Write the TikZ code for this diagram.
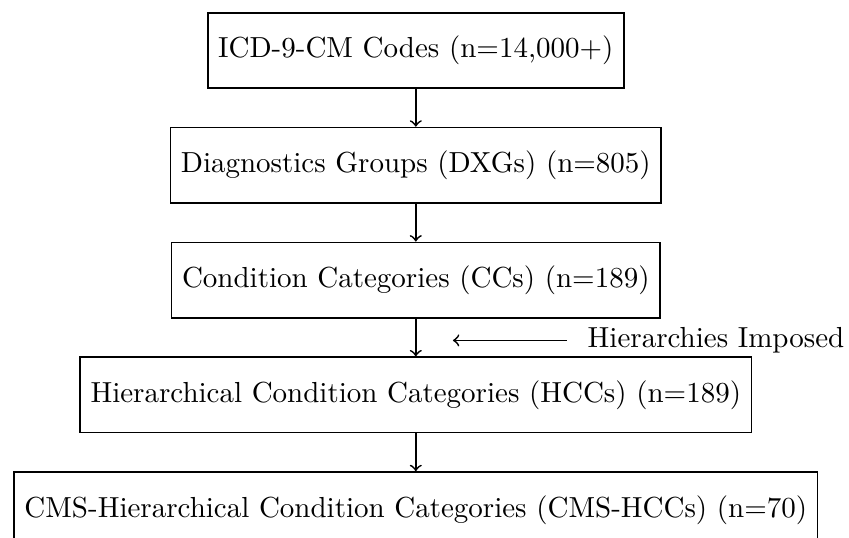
\documentclass[tikz,border=0pt]{standalone}
\usetikzlibrary{positioning}

\begin{document}
\begin{tikzpicture}[
  stage/.style={rectangle, draw, semithick, align=center, minimum height=26pt, inner xsep=3.6pt},
  arrow/.style={->, semithick},
  note/.style={inner xsep=7pt},
  node distance=13pt,
]
\useasboundingbox (0,0) rectangle (292.8pt,-185.2pt);

% === Coding stages ===
\node[stage] (icd) at (143.4pt,-17.4pt) {ICD-9-CM Codes (n=14,000+)};
\node[stage, below=of icd] (dxg) {Diagnostics Groups (DXGs) (n=805)};
\node[stage, below=of dxg] (cc) {Condition Categories (CCs) (n=189)};
\node[stage, below=of cc] (hcc) {Hierarchical Condition Categories (HCCs) (n=189)};
\node[stage, below=of hcc] (cmshcc) {CMS-Hierarchical Condition Categories (CMS-HCCs) (n=70)};

\draw[arrow] (icd) -- (dxg);
\draw[arrow] (dxg) -- (cc);
\draw[arrow] (cc) -- (hcc);
\draw[arrow] (hcc) -- (cmshcc);

% === Hierarchy note ===
\node[note, anchor=west] (hier) at (195.5pt,-117.4pt) {Hierarchies Imposed};
\coordinate (hiertip) at (156.2pt,-117.4pt);
\draw[arrow] (hier.west) -- (hiertip);

\end{tikzpicture}
\end{document}
